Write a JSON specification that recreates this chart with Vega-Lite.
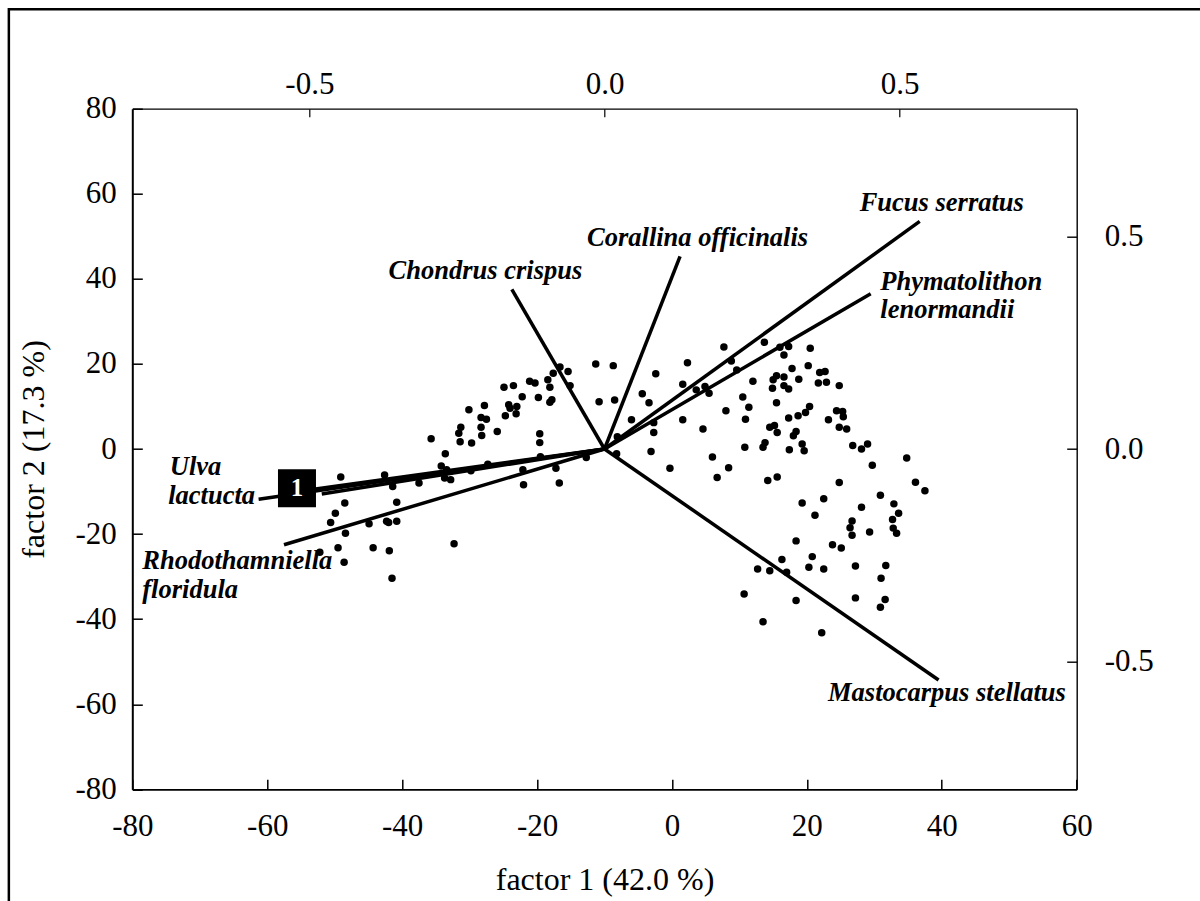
{
  "$schema": "https://vega.github.io/schema/vega-lite/v6.json",
  "width": 944.4,
  "height": 680.6,
  "autosize": {"type": "none"},
  "padding": {"left": 132.3, "top": 108.7, "right": 123.3, "bottom": 111.7},
  "background": "white",
  "config": {
    "view": {"stroke": null},
    "font": "Liberation Serif",
    "axis": {
      "grid": false,
      "labelFont": "Liberation Serif",
      "labelFontSize": 31,
      "labelColor": "black",
      "labelFlush": false,
      "labelOverlap": false,
      "labelExpr": "replace(datum.label, '\u2212', '-')",
      "titleFont": "Liberation Serif",
      "titleFontSize": 32,
      "titleFontWeight": "normal",
      "titleColor": "black",
      "domainColor": "black",
      "tickColor": "black"
    }
  },
  "datasets": {
    "scores": [
      {"f1": -11.3, "f2": 20.0}, {"f1": -8.7, "f2": 19.6}, {"f1": -16.6, "f2": 19.3}, {"f1": -15.4, "f2": 18.2},
      {"f1": -17.6, "f2": 17.8}, {"f1": -18.4, "f2": 16.3}, {"f1": -15.1, "f2": 14.9}, {"f1": -18.1, "f2": 14.5},
      {"f1": -21.1, "f2": 15.9}, {"f1": -20.3, "f2": 15.5}, {"f1": -23.5, "f2": 14.9}, {"f1": -24.9, "f2": 14.5},
      {"f1": -22.2, "f2": 12.3}, {"f1": -19.8, "f2": 12.1}, {"f1": -17.8, "f2": 11.6}, {"f1": -18.1, "f2": 11.0},
      {"f1": -10.8, "f2": 11.1}, {"f1": -8.5, "f2": 11.5}, {"f1": -27.8, "f2": 10.2}, {"f1": -24.2, "f2": 10.4},
      {"f1": -24.0, "f2": 9.6}, {"f1": -23.0, "f2": 10.0}, {"f1": -23.1, "f2": 8.3}, {"f1": -24.7, "f2": 7.8},
      {"f1": -30.1, "f2": 9.2}, {"f1": -28.3, "f2": 7.4}, {"f1": -27.5, "f2": 7.0}, {"f1": -28.3, "f2": 5.1},
      {"f1": -31.3, "f2": 5.1}, {"f1": -31.6, "f2": 3.7}, {"f1": -25.9, "f2": 4.1}, {"f1": -28.2, "f2": 3.2},
      {"f1": -19.6, "f2": 3.6}, {"f1": -35.7, "f2": 2.4}, {"f1": -31.4, "f2": 1.7}, {"f1": -29.7, "f2": 1.4},
      {"f1": -19.6, "f2": 1.5}, {"f1": -33.6, "f2": -1.1}, {"f1": -34.2, "f2": -4.0}, {"f1": -33.4, "f2": -4.9},
      {"f1": -33.7, "f2": -6.8}, {"f1": -32.8, "f2": -7.2}, {"f1": -29.8, "f2": -5.1}, {"f1": -27.3, "f2": -3.6},
      {"f1": -37.5, "f2": -8.0}, {"f1": -19.5, "f2": -1.8}, {"f1": -22.1, "f2": -4.9}, {"f1": -17.2, "f2": -4.5},
      {"f1": -12.7, "f2": -2.0}, {"f1": -8.2, "f2": -1.1}, {"f1": -8.1, "f2": 2.9}, {"f1": -6.0, "f2": 6.9},
      {"f1": -22.0, "f2": -8.4}, {"f1": -16.7, "f2": -8.0}, {"f1": -42.6, "f2": -6.1}, {"f1": -41.4, "f2": -8.8},
      {"f1": -49.1, "f2": -6.6}, {"f1": -40.8, "f2": -12.5}, {"f1": -48.5, "f2": -12.7}, {"f1": -49.9, "f2": -15.1},
      {"f1": -50.6, "f2": -17.3}, {"f1": -44.9, "f2": -17.6}, {"f1": -42.3, "f2": -17.0}, {"f1": -42.0, "f2": -17.3},
      {"f1": -40.8, "f2": -17.0}, {"f1": -48.4, "f2": -19.8}, {"f1": -49.5, "f2": -23.2}, {"f1": -44.3, "f2": -23.2},
      {"f1": -41.9, "f2": -23.9}, {"f1": -32.3, "f2": -22.3}, {"f1": -48.6, "f2": -26.6}, {"f1": -41.5, "f2": -30.4},
      {"f1": -52.2, "f2": -24.3},
      {"f1": 7.7, "f2": 24.0}, {"f1": 13.7, "f2": 25.1}, {"f1": 16.0, "f2": 23.9}, {"f1": 17.3, "f2": 24.1},
      {"f1": 16.6, "f2": 22.1}, {"f1": 20.5, "f2": 23.7}, {"f1": 2.3, "f2": 20.3}, {"f1": 8.8, "f2": 20.7},
      {"f1": 9.6, "f2": 18.6}, {"f1": -2.4, "f2": 17.7}, {"f1": 17.8, "f2": 18.9}, {"f1": 20.2, "f2": 19.6},
      {"f1": 21.9, "f2": 18.0}, {"f1": 22.7, "f2": 18.2}, {"f1": 15.5, "f2": 17.2}, {"f1": 16.6, "f2": 16.9},
      {"f1": 18.8, "f2": 16.4}, {"f1": 12.0, "f2": 15.9}, {"f1": 15.0, "f2": 16.3}, {"f1": 21.7, "f2": 15.5},
      {"f1": 22.9, "f2": 15.7}, {"f1": 24.8, "f2": 14.9}, {"f1": 1.6, "f2": 15.2}, {"f1": 3.6, "f2": 13.9},
      {"f1": 4.9, "f2": 14.7}, {"f1": 5.5, "f2": 13.1}, {"f1": -4.4, "f2": 13.0}, {"f1": -3.4, "f2": 10.9},
      {"f1": 14.9, "f2": 14.3}, {"f1": 16.6, "f2": 14.9}, {"f1": 17.3, "f2": 14.1}, {"f1": 10.5, "f2": 12.2},
      {"f1": 11.4, "f2": 9.8}, {"f1": 15.5, "f2": 10.9}, {"f1": 8.0, "f2": 9.0}, {"f1": 20.4, "f2": 10.0},
      {"f1": 19.8, "f2": 8.6}, {"f1": 18.7, "f2": 7.8}, {"f1": 17.3, "f2": 7.3}, {"f1": 24.4, "f2": 9.0},
      {"f1": 25.3, "f2": 8.8}, {"f1": 25.4, "f2": 7.6}, {"f1": 23.2, "f2": 6.9}, {"f1": 1.6, "f2": 6.9},
      {"f1": 10.9, "f2": 7.0}, {"f1": 4.6, "f2": 4.7}, {"f1": -2.7, "f2": 6.2}, {"f1": -2.7, "f2": 3.9},
      {"f1": 14.5, "f2": 5.1}, {"f1": 15.2, "f2": 5.5}, {"f1": 15.6, "f2": 3.9}, {"f1": 24.8, "f2": 5.1},
      {"f1": 25.9, "f2": 4.7}, {"f1": 18.4, "f2": 4.1}, {"f1": 18.0, "f2": 3.1}, {"f1": 13.8, "f2": 1.5},
      {"f1": 13.5, "f2": 0.4}, {"f1": 10.8, "f2": 0.4}, {"f1": 19.3, "f2": 1.2}, {"f1": 19.6, "f2": -0.4},
      {"f1": 17.4, "f2": -0.2}, {"f1": 26.8, "f2": 0.8}, {"f1": 28.1, "f2": 0.0}, {"f1": 29.0, "f2": 1.2},
      {"f1": -3.1, "f2": -0.6}, {"f1": 6.0, "f2": -1.9}, {"f1": 34.8, "f2": -2.1},
      {"f1": -0.3, "f2": -4.5}, {"f1": 8.4, "f2": -4.4}, {"f1": 6.7, "f2": -6.7}, {"f1": 29.7, "f2": -3.8},
      {"f1": 14.2, "f2": -7.4}, {"f1": 15.6, "f2": -6.6}, {"f1": 24.8, "f2": -7.9}, {"f1": 36.1, "f2": -7.8},
      {"f1": 37.5, "f2": -9.8}, {"f1": 19.3, "f2": -12.7}, {"f1": 22.5, "f2": -11.7}, {"f1": 30.9, "f2": -10.9},
      {"f1": 32.9, "f2": -12.9}, {"f1": 33.6, "f2": -15.1}, {"f1": 28.1, "f2": -13.7}, {"f1": 21.2, "f2": -15.6},
      {"f1": 26.7, "f2": -16.9}, {"f1": 32.7, "f2": -16.6}, {"f1": 26.4, "f2": -18.5}, {"f1": 32.8, "f2": -18.6},
      {"f1": 33.3, "f2": -19.8}, {"f1": 29.3, "f2": -19.5}, {"f1": 26.7, "f2": -20.3}, {"f1": 18.4, "f2": -21.6},
      {"f1": 23.8, "f2": -22.5}, {"f1": 25.1, "f2": -23.3}, {"f1": 16.3, "f2": -26.0}, {"f1": 20.8, "f2": -25.3},
      {"f1": 12.7, "f2": -28.2}, {"f1": 14.5, "f2": -28.6}, {"f1": 17.0, "f2": -29.0}, {"f1": 20.3, "f2": -27.8},
      {"f1": 22.5, "f2": -28.2}, {"f1": 27.2, "f2": -27.5}, {"f1": 31.7, "f2": -27.4}, {"f1": 31.0, "f2": -30.4},
      {"f1": 10.7, "f2": -34.1}, {"f1": 18.4, "f2": -35.6}, {"f1": 27.2, "f2": -35.0}, {"f1": 31.6, "f2": -35.4},
      {"f1": 30.9, "f2": -37.2}, {"f1": 13.5, "f2": -40.6}, {"f1": 22.2, "f2": -43.2}
    ],
    "frame": [
      {"f1_from": -98.3, "f1_to": 80, "f2_from": 103.4, "f2_to": -110}
    ],
    "loadings": [
      {"species": "Fucus serratus", "ox": 0, "oy": 0, "lx": 0.534, "ly": 0.535},
      {"species": "Phymatolithon lenormandii", "ox": 0, "oy": 0, "lx": 0.451, "ly": 0.365},
      {"species": "Corallina officinalis", "ox": 0, "oy": 0, "lx": 0.128, "ly": 0.453},
      {"species": "Chondrus crispus", "ox": 0, "oy": 0, "lx": -0.157, "ly": 0.375},
      {"species": "Mastocarpus stellatus", "ox": 0, "oy": 0, "lx": 0.566, "ly": -0.543},
      {"species": "Rhodothamniella floridula", "ox": 0, "oy": 0, "lx": -0.543, "ly": -0.225},
      {"species": "Ulva lactucta", "ox": 0, "oy": 0, "lx": -0.586, "ly": -0.118},
      {"species": "group 1a", "ox": 0, "oy": 0, "lx": -0.52, "ly": -0.1},
      {"species": "group 1b", "ox": 0, "oy": 0, "lx": -0.479, "ly": -0.106}
    ],
    "labels": [
      {"text": "Fucus serratus", "lx": 0.4323, "ly": 0.5588},
      {"text": "Corallina officinalis", "lx": -0.0296, "ly": 0.4765},
      {"text": "Chondrus crispus", "lx": -0.3658, "ly": 0.3998},
      {"text": "Phymatolithon", "lx": 0.4673, "ly": 0.3746},
      {"text": "lenormandii", "lx": 0.4673, "ly": 0.308},
      {"text": "Mastocarpus stellatus", "lx": 0.3787, "ly": -0.5925},
      {"text": "Ulva", "lx": -0.7364, "ly": -0.0607},
      {"text": "lactucta", "lx": -0.7391, "ly": -0.1296},
      {"text": "Rhodothamniella", "lx": -0.7831, "ly": -0.2826},
      {"text": "floridula", "lx": -0.7831, "ly": -0.3494}
    ],
    "groups": [
      {"label": "1", "lx": -0.521, "ly": -0.0925}
    ]
  },
  "layer": [
    {
      "layer": [
        {
          "data": {"name": "scores"},
          "mark": {"type": "circle", "size": 56, "color": "black", "opacity": 1},
          "encoding": {
            "x": {
              "field": "f1", "type": "quantitative",
              "scale": {"domain": [-80, 60], "nice": false, "zero": false},
              "axis": {
                "orient": "bottom", "values": [-80, -60, -40, -20, 0, 20, 40, 60],
                "title": "factor 1 (42.0 %)", "tickSize": -10, "labelPadding": 32,
                "domainWidth": 1.8, "tickWidth": 1.5,
                "titleY": 100, "titleBaseline": "alphabetic"
              }
            },
            "y": {
              "field": "f2", "type": "quantitative",
              "scale": {"domain": [-80, 80], "nice": false, "zero": false},
              "axis": {
                "orient": "left", "values": [-80, -60, -40, -20, 0, 20, 40, 60, 80],
                "title": "factor 2 (17.3 %)", "tickSize": -10, "labelPadding": 26,
                "domainWidth": 2, "tickWidth": 1.5,
                "titleX": -89, "titleY": 340.3, "titleAngle": 270,
                "titleAlign": "center", "titleBaseline": "alphabetic"
              }
            }
          }
        },
        {
          "data": {"name": "frame"},
          "mark": {"type": "rect", "fillOpacity": 0, "stroke": "black", "strokeWidth": 2.5},
          "encoding": {
            "x": {"field": "f1_from", "type": "quantitative"},
            "x2": {"field": "f1_to"},
            "y": {"field": "f2_from", "type": "quantitative"},
            "y2": {"field": "f2_to"}
          }
        }
      ]
    },
    {
      "layer": [
        {
          "data": {"name": "loadings"},
          "mark": {"type": "rule", "color": "black", "strokeWidth": 3.5},
          "encoding": {
            "x": {
              "field": "ox", "type": "quantitative",
              "scale": {"domain": [-0.8, 0.8], "nice": false, "zero": false},
              "axis": {
                "orient": "top", "values": [-0.5, 0, 0.5], "format": ".1f", "title": null,
                "tickSize": -8, "labelPadding": 16, "domainWidth": 1.2, "tickWidth": 1.2
              }
            },
            "x2": {"field": "lx"},
            "y": {
              "field": "oy", "type": "quantitative",
              "scale": {"domain": [-0.8, 0.8], "nice": false, "zero": false},
              "axis": {
                "orient": "right", "values": [-0.5, 0, 0.5], "format": ".1f", "title": null,
                "tickSize": -10, "labelPadding": 37.6, "domainWidth": 1.4, "tickWidth": 1.4
              }
            },
            "y2": {"field": "ly"}
          }
        },
        {
          "data": {"name": "labels"},
          "mark": {
            "type": "text", "align": "left", "baseline": "alphabetic",
            "font": "Liberation Serif", "fontSize": 26.5, "fontStyle": "italic",
            "fontWeight": "bold", "color": "black"
          },
          "encoding": {
            "x": {"field": "lx", "type": "quantitative"},
            "y": {"field": "ly", "type": "quantitative"},
            "text": {"field": "text"}
          }
        },
        {
          "data": {"name": "groups"},
          "mark": {"type": "square", "size": 1444, "color": "black", "filled": true, "opacity": 1},
          "encoding": {
            "x": {"field": "lx", "type": "quantitative"},
            "y": {"field": "ly", "type": "quantitative"}
          }
        },
        {
          "data": {"name": "groups"},
          "mark": {
            "type": "text", "align": "center", "baseline": "middle",
            "font": "Liberation Serif", "fontSize": 25, "fontWeight": "bold", "color": "white"
          },
          "encoding": {
            "x": {"field": "lx", "type": "quantitative"},
            "y": {"field": "ly", "type": "quantitative"},
            "text": {"field": "label"}
          }
        }
      ]
    }
  ],
  "resolve": {
    "scale": {"x": "independent", "y": "independent"},
    "axis": {"x": "independent", "y": "independent"}
  }
}
